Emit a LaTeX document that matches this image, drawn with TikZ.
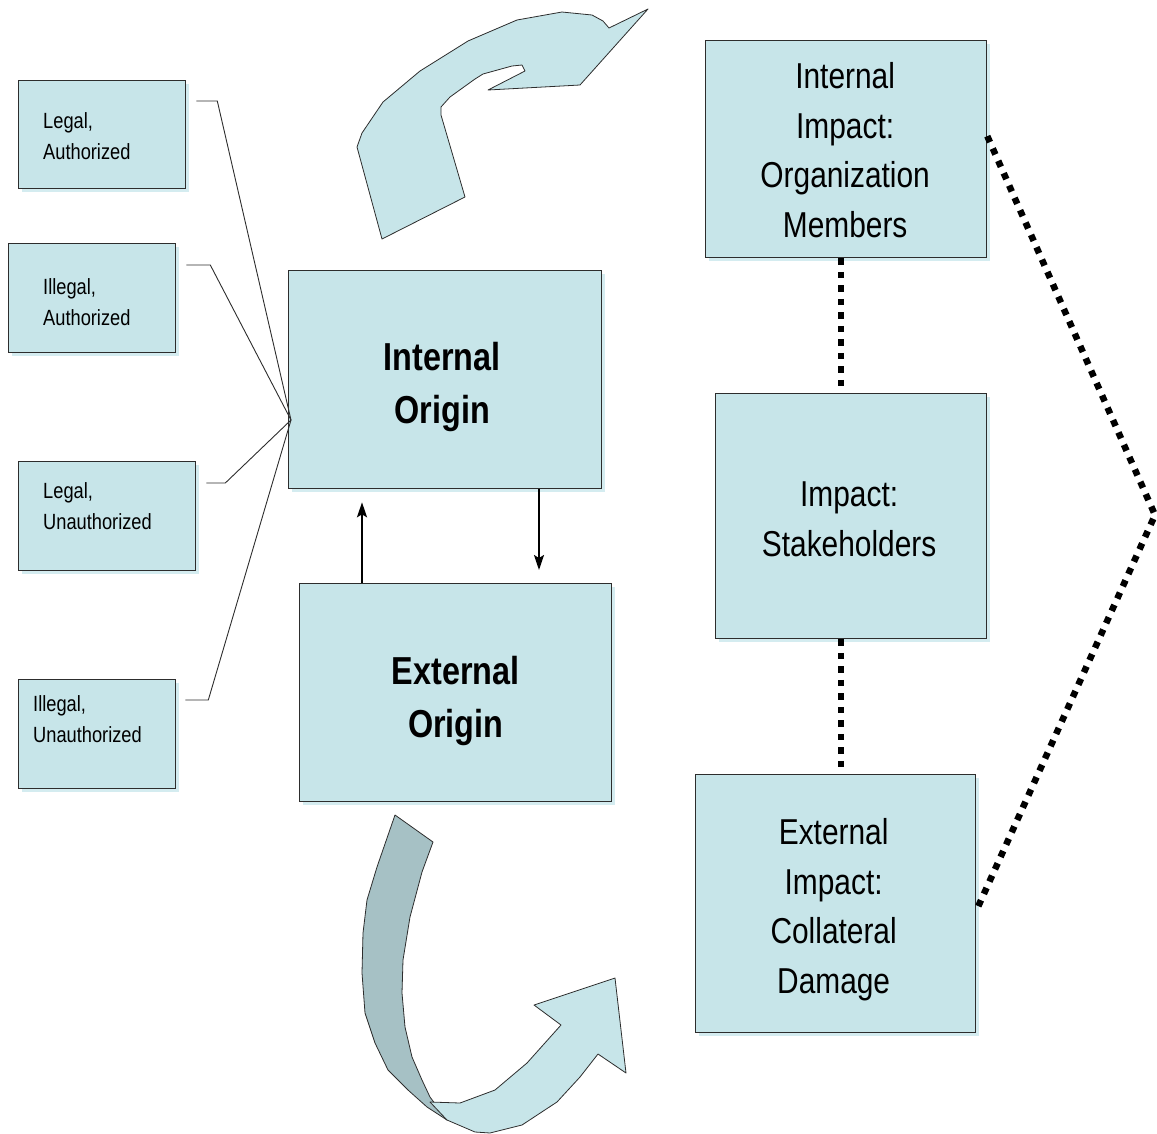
\documentclass[tikz,border=0pt]{standalone}
\usepackage{fontspec}
\setmainfont{Liberation Sans}[FakeStretch=0.83]
\usetikzlibrary{arrows.meta,calc,shadows}
\definecolor{boxfill}{RGB}{199,229,233}
\definecolor{shadowfill}{RGB}{212,236,240}
\definecolor{ribbondark}{RGB}{166,193,197}
\definecolor{edge}{RGB}{45,45,45}
\begin{document}
\begin{tikzpicture}[x=1pt,y=-1pt,
  box/.style={draw=edge, line width=1.3pt, fill=boxfill, inner sep=0pt, anchor=north west,
    general shadow={fill=shadowfill, shadow xshift=3pt, shadow yshift=-3pt}},
  smalltext/.style={font=\fontsize{22}{31}\selectfont, align=left, anchor=north west, inner sep=0pt},
  bigtext/.style={font=\fontsize{36}{49.5}\selectfont, align=center},
  boldtext/.style={font=\fontsize{39}{53}\selectfont\bfseries, align=center},
  thinline/.style={draw=edge, line width=0.9pt},
  arr/.style={line width=2pt, -{Stealth[length=15pt,width=10pt,inset=3pt]}},
  dotline/.style={line width=6.5pt, dash pattern=on 6.5pt off 7pt, black},
  ribbon/.style={draw=edge, line width=0.8pt, line join=round}
]
\useasboundingbox (0,0) rectangle (1157,1133);

% curved arrows
\draw[ribbon, fill=boxfill] (382,239) -- (357,147) -- (362,133) -- (383,102) -- (420,71) -- (468,41) -- (517,20) -- (562,12) -- (592,15) -- (603,21) -- (609,28) -- (648,9) -- (580,85) -- (488,90) -- (525,71) -- (522,65) -- (512,66) -- (483,74) -- (475,79) -- (450,97) -- (441,107) -- (441,115) -- (465,197) -- cycle;

\draw[ribbon, fill=ribbondark] (395,815) -- (433,842) -- (422,872) -- (410,917) -- (403,960) -- (402,993) -- (405,1027) -- (412,1057) -- (422,1080) -- (430,1097) -- (447,1120) -- (427,1107) -- (408,1090) -- (388,1070) -- (375,1043) -- (365,1013) -- (362,973) -- (363,933) -- (367,900) -- (377,867) -- cycle;
\draw[ribbon, fill=boxfill] (430,1102) -- (460,1103) -- (495,1090) -- (527,1063) -- (561,1025) -- (534,1005) -- (615,978) -- (626,1073) -- (598,1054) -- (580,1077) -- (557,1102) -- (522,1125) -- (490,1133) -- (475,1132) -- (447,1120) -- cycle;

% small boxes
\node[box, minimum width=167, minimum height=108] (la) at (18,80) {};
\node[box, minimum width=167, minimum height=109] (ia) at (8,243) {};
\node[box, minimum width=177, minimum height=109] (lu) at (18,461) {};
\node[box, minimum width=157, minimum height=109] (iu) at (18,679) {};
\node[smalltext] (tla) at (43,112) {Legal,\\Authorized};
\node[smalltext] (tia) at (43,278) {Illegal,\\Authorized};
\node[smalltext] (tlu) at (43,482) {Legal,\\Unauthorized};
\node[smalltext] (tiu) at (33,695) {Illegal,\\Unauthorized};

% origin boxes
\node[box, minimum width=313, minimum height=218] (io) at (288,270) {};
\node[box, minimum width=312, minimum height=218] (eo) at (299,583) {};
\node[boldtext] (tio) at ($(io.center)+(-3,7)$) {Internal\\Origin};
\node[boldtext] (teo) at ($(eo.center)+(0,8)$) {External\\Origin};

% impact boxes
\node[box, minimum width=281, minimum height=217] (iim) at (705,40) {};
\node[box, minimum width=271, minimum height=245] (sth) at (715,393) {};
\node[box, minimum width=280, minimum height=258] (eim) at (695,774) {};
\node[bigtext] (tiim) at ($(iim.center)+(-1,1)$) {Internal\\Impact:\\Organization\\Members};
\node[bigtext] (tsth) at ($(sth.center)+(-2,3)$) {Impact:\\Stakeholders};
\node[bigtext] (teim) at ($(eim.center)+(-2,6)$) {External\\Impact:\\Collateral\\Damage};

% connectors from small boxes
\coordinate (hub) at ($(io.north west)+(3,150)$);
\coordinate (s1) at ($(la.north east)+(10,21)$);
\coordinate (s2) at ($(ia.north east)+(10,22)$);
\coordinate (s3) at ($(lu.north east)+(10,22)$);
\coordinate (s4) at ($(iu.north east)+(9,21)$);
\draw[thinline] (s1) -- ++(21,0) -- (hub);
\draw[thinline] (s2) -- ++(24,0) -- (hub);
\draw[thinline] (s3) -- ++(19,0) -- (hub);
\draw[thinline] (s4) -- ++(23,0) -- (hub);

% arrows between origins
\coordinate (ua) at (362,0);
\coordinate (da) at (539,0);
\draw[arr] (eo.north -| ua) -- ($(io.south -| ua)+(0,13)$);
\draw[arr] (io.south -| da) -- ($(eo.north -| da)+(0,-13)$);

% dotted connectors
\coordinate (xl) at (841,0);
\coordinate (apex) at (1155,515);
\draw[dotline] (iim.south -| xl) -- (sth.north -| xl);
\draw[dotline] (sth.south -| xl) -- (eim.north -| xl);
\draw[dotline] ([yshift=13pt]iim.east) -- (apex) -- ([yshift=-7pt]eim.east);
\end{tikzpicture}
\end{document}
